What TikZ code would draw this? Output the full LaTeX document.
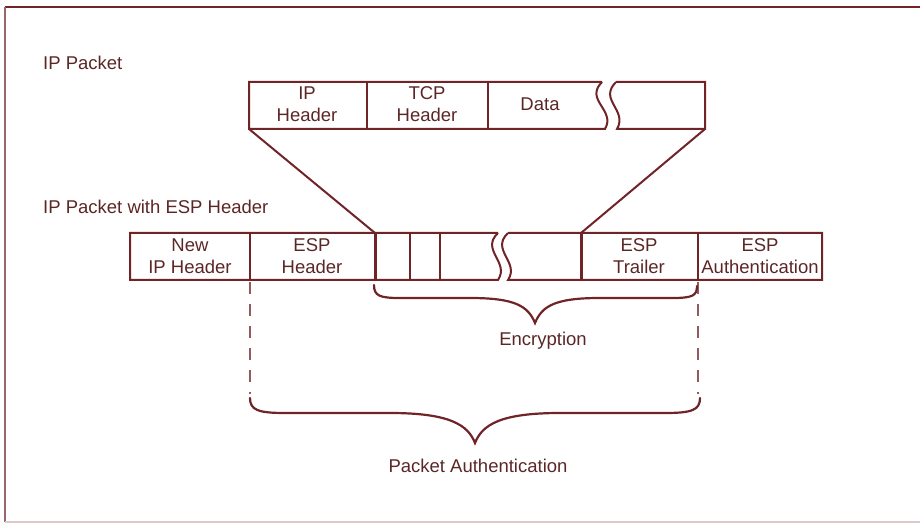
\documentclass[tikz,border=0pt]{standalone}
\usepackage{fontspec}
\setmainfont{Liberation Sans}
\definecolor{ink}{RGB}{112,36,40}
\definecolor{txt}{RGB}{92,38,38}
\begin{document}
\begin{tikzpicture}[x=1pt,y=-1pt,
  box/.style={draw=ink, line width=2pt, line join=miter},
  thick edge/.style={draw=ink, line width=3pt},
  lbl/.style={text=txt, font=\fontsize{18.5}{21.5}\selectfont, align=center, inner sep=0pt},
  ttl/.style={lbl, anchor=west},
  brc/.style={draw=ink, line width=2.2pt, line cap=round},
  guide/.style={draw=ink!75, line width=1.2pt, dash pattern=on 12pt off 10pt}]
\useasboundingbox (0,0) rectangle (920,526);

% outer frame
\draw[ink, line width=1.6pt] (920,7) -- (5,7);
\draw[ink!70, line width=1.2pt] (5,7) -- (5,522);
\draw[ink!25, line width=1.2pt] (5,522) -- (920,522);

% titles
\node[ttl] (t1) at (43,63) {IP Packet};
\node[ttl] (t2) at (43,207) {IP Packet with ESP Header};

% ---- original IP packet ----
\coordinate (a-tl) at (249,82);
\coordinate (a-bl) at (249,129);
\coordinate (a-tr) at (705,82);
\coordinate (a-br) at (705,129);
\draw[box] (602,82) -- (a-tl) -- (a-bl) -- (605,129)
  .. controls (616,110) and (584,100) .. (602,82);
\draw[box] (616,82) -- (a-tr) -- (a-br) -- (617,129)
  .. controls (628,110) and (598,100) .. (616,82);
\draw[box] (367,82) -- (367,129);
\draw[box] (488,82) -- (488,129);
\node[lbl] (iph) at (307,104) {IP\\Header};
\node[lbl] (tcph) at (427,104) {TCP\\Header};
\node[lbl] (data) at (540,104) {Data};

% ---- packet with ESP header ----
\coordinate (b-tl) at (130,233);
\coordinate (b-bl) at (130,280);
\coordinate (b-tr) at (822,233);
\coordinate (b-br) at (822,280);
\coordinate (enc-l) at (375,233);
\coordinate (enc-r) at (581,233);
\draw[box] (498,233) -- (b-tl) -- (b-bl) -- (498,280)
  .. controls (510,262) and (480,250) .. (498,233);
\draw[box] (508,233) -- (b-tr) -- (b-br) -- (508,280)
  .. controls (520,262) and (490,250) .. (508,233);
\draw[box] (250,233) -- (250,280);
\draw[thick edge] (enc-l) -- (375,280);
\draw[box] (410,233) -- (410,280);
\draw[box] (440,233) -- (440,280);
\draw[thick edge] (enc-r) -- (581,280);
\draw[box] (698,233) -- (698,280);
\node[lbl] (newip) at (190,256) {New\\IP Header};
\node[lbl] (esph) at (312,256) {ESP\\Header};
\node[lbl] (espt) at (639,256) {ESP\\Trailer};
\node[lbl] (espa) at (760,256) {ESP\\Authentication};

% expansion lines between the two packets
\draw[box] (a-bl) -- (enc-l);
\draw[box] (a-br) -- (enc-r);

% guides for the authenticated range
\coordinate (g1) at (250,282);
\coordinate (g2) at (250,394);
\coordinate (g3) at (698,282);
\coordinate (g4) at (698,394);
\draw[guide] (g1) -- (g2);
\draw[guide] (g3) -- (g4);

% encryption brace
\draw[brc] (374,285) .. controls (374,296) and (380,298) .. (400,298)
  -- (470,298) .. controls (515,298) and (528,306) .. (535,323)
  .. controls (542,306) and (555,298) .. (600,298)
  -- (672,298) .. controls (692,298) and (697,296) .. (697,286);
\node[lbl] (enc) at (543,341) {Encryption};

% authentication brace
\draw[brc] (250,398) .. controls (250,410) and (258,413) .. (285,413)
  -- (390,413) .. controls (450,413) and (468,425) .. (475,443)
  .. controls (482,425) and (500,413) .. (560,413)
  -- (665,413) .. controls (692,413) and (700,410) .. (700,398);
\node[lbl] (auth) at (478,466) {Packet Authentication};
\end{tikzpicture}
\end{document}
